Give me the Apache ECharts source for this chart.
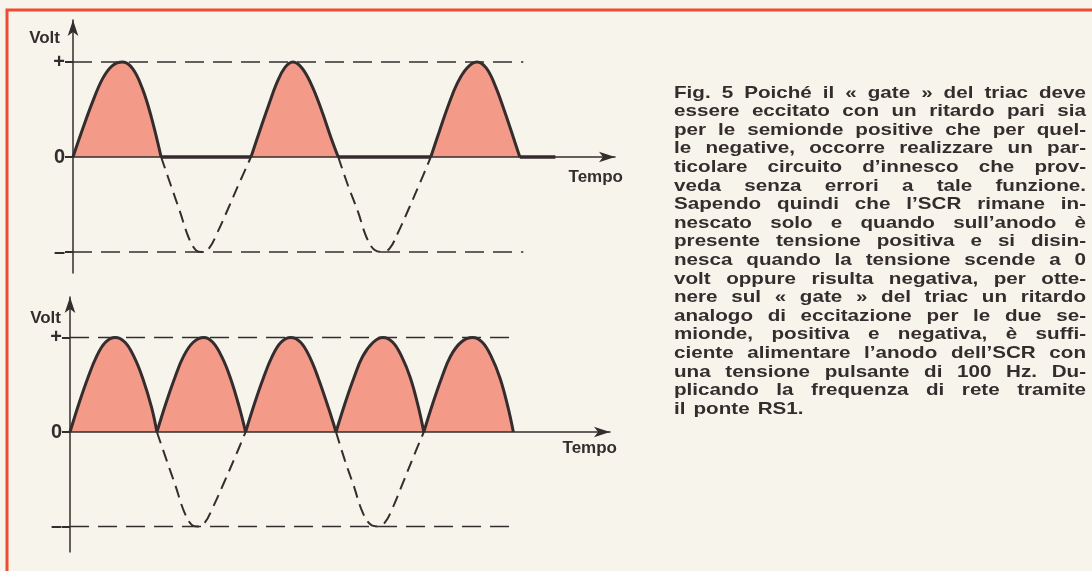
<!DOCTYPE html>
<html>
<head>
<meta charset="utf-8">
<title>Fig. 5</title>
<script src="https://cdn.jsdelivr.net/npm/echarts@6/dist/echarts.min.js"></script>
<style>
html,body{margin:0;padding:0;background:#f7f4ec;}
#main{width:1092px;height:571px;}
</style>
</head>
<body>
<div id="main"></div>
<script>
// asse x: tempo in ms (una semionda = 10 ms), asse y: tensione normalizzata
var levelValues = [1, 0, -1];
var levelLabels = ['+', '0', '–'];

// grafico in alto: semionde positive (SCR)
var topHumpX = [
	[0, 1.1, 2.2, 3.3, 4.4, 5.6, 6.7, 7.8, 8.8, 9.9],
	[20, 21, 22, 22.9, 23.8, 24.7, 25.7, 26.8, 27.9, 29, 29.8],
	[40.2, 41.2, 42.2, 43.2, 44.3, 45.4, 46.4, 47.4, 48.5, 49.5, 50.2]
];
var topHumpY = [
	[0, 0.3, 0.58, 0.82, 0.96, 1, 0.93, 0.72, 0.42, 0],
	[0, 0.28, 0.55, 0.78, 0.94, 1, 0.94, 0.76, 0.5, 0.2, 0],
	[0, 0.28, 0.55, 0.78, 0.94, 1, 0.94, 0.76, 0.48, 0.2, 0]
];
// tratti a zero (uscita nulla) tra le semionde
var topFlatX = [[9.9, 20], [29.8, 40.2], [50.2, 54.2]];
// semionde negative tratteggiate
var topTroughX = [
	[9.9, 11, 12, 13, 13.8, 14.5, 15.3, 16.2, 17.4, 18.7, 20],
	[29.8, 30.9, 32, 33, 33.9, 34.8, 35.6, 36.5, 37.7, 39, 40.2]
];
var topTroughY = [
	[0, -0.3, -0.57, -0.85, -0.98, -1, -0.96, -0.8, -0.55, -0.27, 0],
	[0, -0.3, -0.57, -0.85, -0.98, -1, -0.96, -0.8, -0.55, -0.27, 0]
];
var topLevelEnd = 50.6;

// grafico in basso: tensione pulsante 100 Hz
var botHumpX = [
	[0, 1, 2, 3, 4, 5.1, 6.2, 7.2, 8.2, 9.2, 9.8],
	[9.8, 10.8, 11.8, 12.8, 13.9, 15.1, 16.1, 17.1, 18.1, 19.1, 19.8],
	[19.8, 20.8, 21.8, 22.8, 23.8, 24.9, 26, 27, 28, 29.2, 30],
	[30, 31, 32, 33, 34.2, 35.3, 36.4, 37.4, 38.4, 39.3, 39.9],
	[39.9, 40.9, 41.9, 42.9, 44.1, 45.4, 46.5, 47.5, 48.5, 49.4, 50]
];
var botHumpY = [
	[0, 0.3, 0.57, 0.8, 0.95, 1, 0.95, 0.8, 0.57, 0.26, 0],
	[0, 0.3, 0.57, 0.8, 0.95, 1, 0.95, 0.8, 0.57, 0.26, 0],
	[0, 0.3, 0.57, 0.8, 0.95, 1, 0.95, 0.8, 0.57, 0.24, 0],
	[0, 0.3, 0.57, 0.8, 0.95, 1, 0.95, 0.8, 0.57, 0.26, 0],
	[0, 0.3, 0.57, 0.8, 0.95, 1, 0.95, 0.8, 0.57, 0.26, 0]
];
var botTroughX = [
	[9.8, 10.9, 11.9, 12.9, 13.7, 14.4, 15.2, 16.1, 17.3, 18.6, 19.8],
	[30, 31, 32, 33, 33.9, 34.7, 35.5, 36.4, 37.5, 38.7, 39.9]
];
var botTroughY = [
	[0, -0.3, -0.57, -0.85, -0.98, -1, -0.96, -0.8, -0.55, -0.27, 0],
	[0, -0.3, -0.57, -0.85, -0.98, -1, -0.96, -0.8, -0.55, -0.27, 0]
];
var botLevelEnd = 50.3;

var captionLines = [
	'Fig. 5 Poiché il « gate » del triac deve',
	'essere eccitato con un ritardo pari sia',
	'per le semionde positive che per quel-',
	'le negative, occorre realizzare un par-',
	'ticolare circuito d’innesco che prov-',
	'veda senza errori a tale funzione.',
	'Sapendo quindi che l’SCR rimane in-',
	'nescato solo e quando sull’anodo è',
	'presente tensione positiva e si disin-',
	'nesca quando la tensione scende a 0',
	'volt oppure risulta negativa, per otte-',
	'nere sul « gate » del triac un ritardo',
	'analogo di eccitazione per le due se-',
	'mionde, positiva e negativa, è suffi-',
	'ciente alimentare l’anodo dell’SCR con',
	'una tensione pulsante di 100 Hz. Du-',
	'plicando la frequenza di rete tramite',
	'il ponte RS1.'
];

var ink = '#352d2d';
var fillPink = '#f49a88';
var fontFam = '"Liberation Sans", Arial, sans-serif';

function pts(xs, ys) {
	var arr = [];
	for (var i = 0; i < xs.length; i++) arr.push([xs[i], ys[i]]);
	return arr;
}

var series = [];
function addHumps(xs, ys, idx) {
	for (var i = 0; i < xs.length; i++) {
		series.push({
			type: 'line', xAxisIndex: idx, yAxisIndex: idx, smooth: 0.4, symbol: 'none',
			data: pts(xs[i], ys[i]),
			lineStyle: {color: ink, width: 3},
			areaStyle: {color: fillPink, opacity: 1, origin: 'auto'},
			z: 3
		});
	}
}
function addTroughs(xs, ys, idx) {
	for (var i = 0; i < xs.length; i++) {
		series.push({
			type: 'line', xAxisIndex: idx, yAxisIndex: idx, smooth: 0.4, symbol: 'none',
			data: pts(xs[i], ys[i]),
			lineStyle: {color: ink, width: 2, type: [12, 7]},
			z: 2
		});
	}
}
function addLevels(end, idx) {
	[1, -1].forEach(function(v) {
		series.push({
			type: 'line', xAxisIndex: idx, yAxisIndex: idx, symbol: 'none',
			data: [[0, v], [end, v]],
			lineStyle: {color: ink, width: 1.5, type: [19, 9]},
			z: 2
		});
	});
}

addHumps(topHumpX, topHumpY, 0);
topFlatX.forEach(function(seg) {
	series.push({
		type: 'line', xAxisIndex: 0, yAxisIndex: 0, symbol: 'none',
		data: [[seg[0], 0], [seg[1], 0]],
		lineStyle: {color: ink, width: 3.5},
		z: 4
	});
});
addTroughs(topTroughX, topTroughY, 0);
addLevels(topLevelEnd, 0);
addHumps(botHumpX, botHumpY, 1);
addTroughs(botTroughX, botTroughY, 1);
addLevels(botLevelEnd, 1);

function makeX(idx, gap, padTop) {
	return {
		type: 'value', gridIndex: idx, min: 0, max: 60.9, z: 5,
		axisLine: {onZero: true, symbol: ['none', 'arrow'], symbolSize: [8, 16], lineStyle: {color: ink, width: 1.5}},
		axisTick: {show: false}, axisLabel: {show: false}, splitLine: {show: false},
		name: 'Tempo', nameLocation: 'end', nameGap: gap,
		nameTextStyle: {color: ink, fontSize: 17, fontWeight: 'bold', fontFamily: fontFam,
			align: 'right', verticalAlign: 'top', padding: [padTop, 0, 0, 0]}
	};
}
function makeY(idx, min, max, gap, padRight) {
	return {
		type: 'value', gridIndex: idx, min: min, max: max, z: 5,
		axisLine: {symbol: ['none', 'arrow'], symbolSize: [8, 16], lineStyle: {color: ink, width: 1.5}},
		axisTick: {show: true, customValues: levelValues, length: 8, lineStyle: {color: ink, width: 2}},
		axisLabel: {
			customValues: levelValues, margin: 8, color: ink, fontSize: 20, fontWeight: 'bold', fontFamily: fontFam,
			formatter: function(v) { return levelLabels[levelValues.indexOf(Math.round(v))]; }
		},
		splitLine: {show: false},
		name: 'Volt', nameLocation: 'end', nameGap: gap,
		nameTextStyle: {color: ink, fontSize: 17, fontWeight: 'bold', fontFamily: fontFam,
			align: 'right', verticalAlign: 'middle', padding: [0, padRight, 0, 0]}
	};
}

// didascalia giustificata, parola per parola
var capFont = 16.5, capScale = 1.25, capX = 674, capW = 412, capY = 93, capLH = 18.6;
var ctx = document.createElement('canvas').getContext('2d');
ctx.font = 'bold ' + capFont + 'px "Liberation Sans"';
var graphics = [{
	type: 'polyline', silent: true,
	shape: {points: [[1100, 10], [7, 10], [7, 580]]},
	style: {stroke: '#ee4b35', lineWidth: 3, fill: null}
}];
captionLines.forEach(function(line, li) {
	var words = line.split(' ');
	var widths = words.map(function(w) { return ctx.measureText(w).width * capScale; });
	var total = widths.reduce(function(a, b) { return a + b; }, 0);
	var gap = li === captionLines.length - 1 ? ctx.measureText(' ').width * capScale * 1.4
		: (capW - total) / (words.length - 1);
	var x = capX;
	words.forEach(function(w, wi) {
		graphics.push({
			type: 'text', silent: true, x: x, y: capY + li * capLH, scaleX: capScale,
			style: {text: w, fill: ink, fontSize: capFont, fontWeight: 'bold', fontFamily: fontFam,
				verticalAlign: 'middle', align: 'left'}
		});
		x += widths[wi] + gap;
	});
});

var myChart = echarts.init(document.getElementById('main'));
myChart.setOption({
	backgroundColor: '#f7f4ec',
	animation: false,
	grid: [
		{left: 73, top: 20, width: 542, height: 253},
		{left: 70, top: 297, width: 540, height: 255}
	],
	xAxis: [makeX(0, 8, 12), makeX(1, 7, 8)],
	yAxis: [makeY(0, -1.221, 1.442, -18, 13), makeY(1, -1.27, 1.429, -21, 9)],
	series: series,
	graphic: graphics
});
</script>
</body>
</html>
